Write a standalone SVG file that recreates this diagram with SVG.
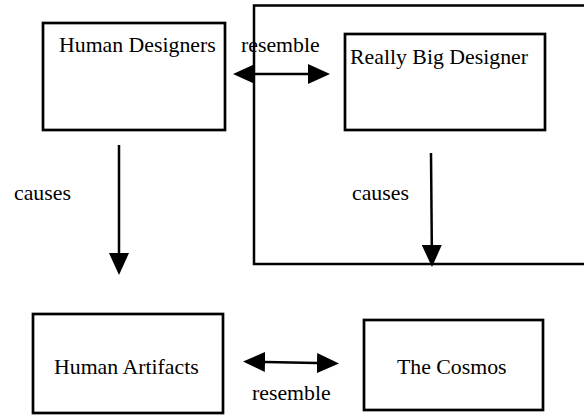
<svg xmlns="http://www.w3.org/2000/svg" width="584" height="415" viewBox="0 0 584 415">
<style>
.box{fill:none;stroke:#000;stroke-width:2.7}
.frame{fill:none;stroke:#000;stroke-width:2.5}
.ln{fill:none;stroke:#000;stroke-width:2.5}
text{font-family:"Liberation Serif","Times New Roman",serif;font-size:21.8px;fill:#000}
</style>
<defs>
<marker id="ah" viewBox="0 0 22 20" refX="0" refY="10" markerWidth="22" markerHeight="20" markerUnits="userSpaceOnUse" orient="auto-start-reverse">
<path d="M0,0 L22,10 L0,20 z" fill="#000"/>
</marker>
</defs>
<rect width="584" height="415" fill="#fff"/>
<g id="frame">
<rect class="frame" x="254" y="5.5" width="360" height="258.5"/>
</g>
<g id="human-designers">
<rect class="box" x="43" y="23" width="182" height="107"/>
<text x="59" y="52">Human Designers</text>
</g>
<g id="really-big-designer">
<rect class="box" x="345" y="34" width="200" height="96"/>
<text x="350" y="64">Really Big Designer</text>
</g>
<g id="human-artifacts">
<rect class="box" x="33" y="314" width="190" height="99"/>
<text x="54" y="374">Human Artifacts</text>
</g>
<g id="the-cosmos">
<rect class="box" x="364" y="320" width="179" height="90"/>
<text x="397" y="374">The Cosmos</text>
</g>
<g id="connectors">
<line class="ln" x1="255" y1="74" x2="308" y2="74" marker-start="url(#ah)" marker-end="url(#ah)"/>
<line class="ln" x1="119" y1="145" x2="119" y2="253" marker-end="url(#ah)"/>
<line class="ln" x1="431" y1="153" x2="431.8" y2="245" marker-end="url(#ah)"/>
<line class="ln" stroke-width="2.2" x1="265" y1="362" x2="317" y2="363" marker-start="url(#ah)" marker-end="url(#ah)"/>
<text x="241" y="52">resemble</text>
<text x="14" y="200">causes</text>
<text x="352" y="200">causes</text>
<text x="252" y="400">resemble</text>
</g>
</svg>
